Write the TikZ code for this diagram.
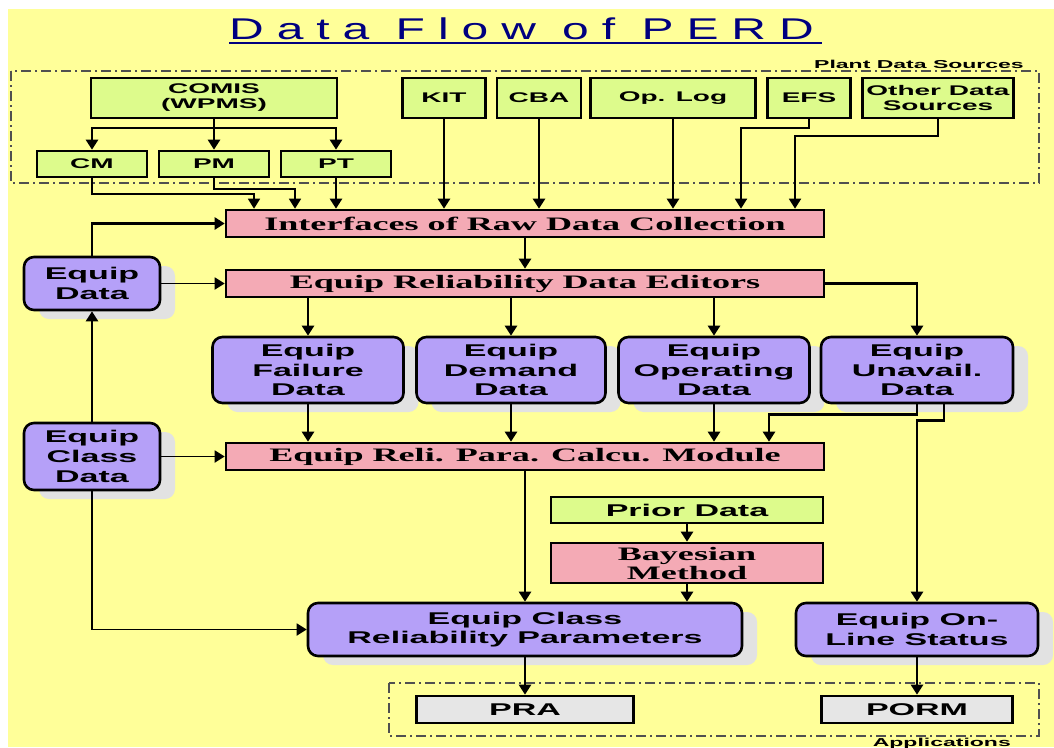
\documentclass[tikz,border=0pt]{standalone}
\usepackage{fontspec}
\usepackage{tikz}
\usetikzlibrary{arrows.meta,shadows}

\newfontfamily\boxsans[FakeStretch=2.0]{Liberation Sans}
\newfontfamily\boxserif[FakeStretch=1.9]{Liberation Serif}
\newfontfamily\titlesans[LetterSpace=27]{Liberation Sans}

\definecolor{bgyellow}{HTML}{FFFF99}
\definecolor{srcgreen}{HTML}{DDFB8C}
\definecolor{procpink}{HTML}{F4AAB5}
\definecolor{datapurple}{HTML}{B5A0F8}
\definecolor{appgray}{HTML}{E6E6E6}
\definecolor{titleblue}{HTML}{000080}
\definecolor{shadowgray}{HTML}{E2E2E2}
\definecolor{framegray}{HTML}{505050}

\tikzset{
  srcbox/.style={draw, line width=2.6pt, fill=srcgreen, inner sep=0pt, align=center,
    font=\boxsans\bfseries\fontsize{14}{15}\selectfont},
  procbox/.style={draw, line width=2.6pt, fill=procpink, inner sep=0pt, align=center,
    font=\boxserif\bfseries\fontsize{19}{19}\selectfont},
  databox/.style={draw, line width=2.6pt, fill=datapurple, rounded corners=10pt, inner sep=0pt,
    align=center, font=\boxsans\bfseries\fontsize{17}{19.7}\selectfont,
    drop shadow={shadow xshift=15pt, shadow yshift=-9pt, fill=shadowgray, opacity=1}},
  appbox/.style={draw, line width=2.6pt, fill=appgray, inner sep=0pt, align=center,
    font=\boxsans\bfseries\fontsize{17}{19}\selectfont},
  groupframe/.style={draw=framegray, line width=1.2pt, dash pattern=on 10pt off 4pt on 2pt off 4pt},
  grouplabel/.style={inner sep=0pt, font=\boxsans\bfseries\fontsize{11.5}{12}\selectfont},
  arr/.style={line width=2.4pt, -{Triangle[length=10pt,width=12pt]}},
  thinarr/.style={line width=1.8pt, -{Triangle[length=10pt,width=12pt]}}
}

\begin{document}
\begin{tikzpicture}[x=1pt,y=-1pt]
\useasboundingbox (0,0) rectangle (1054,747);
\fill[white] (0,0) rectangle (1054,747);
\fill[bgyellow] (8,9) rectangle (1054,747);

% title
\node[inner sep=0pt, text=titleblue, font=\titlesans\fontsize{30}{30}\selectfont, anchor=base west]
  (title) at (229,39.5) {\scalebox{1.6}[1]{Data Flow of PERD}};
\draw[titleblue, line width=2pt] (229,43) -- (822,43);

% plant data sources
\draw[groupframe] (11,71) rectangle (1039,183);
\node[grouplabel, anchor=base east] (plantlbl) at (1024,68) {Plant Data Sources};

\node[srcbox, minimum width=246, minimum height=40] (comis) at (214,98) {COMIS\\(WPMS)};
\node[srcbox, minimum width=110, minimum height=26] (cm) at (92,164) {CM};
\node[srcbox, minimum width=110, minimum height=26] (pm) at (214,164) {PM};
\node[srcbox, minimum width=110, minimum height=26] (pt) at (336,164) {PT};
\node[srcbox, minimum width=83, minimum height=40] (kit) at (444,98) {KIT};
\node[srcbox, minimum width=84, minimum height=40] (cba) at (539,98) {CBA};
\node[srcbox, minimum width=165, minimum height=40] (oplog) at (673,98) {Op. Log};
\node[srcbox, minimum width=83, minimum height=40] (efs) at (809,98) {EFS};
\node[srcbox, minimum width=151, minimum height=40] (other) at (938,98) {Other Data\\Sources};

% processing chain
\node[procbox, minimum width=598, minimum height=27] (iface) at (525,223.5) {Interfaces of Raw Data Collection};
\node[procbox, minimum width=598, minimum height=27] (edit) at (525,283.5) {Equip Reliability Data Editors};
\node[procbox, minimum width=598, minimum height=27] (calc) at (525,456.5) {Equip Reli. Para. Calcu. Module};

\node[databox, minimum width=136, minimum height=53] (eqdata) at (92,283.5) {Equip\\Data};
\node[databox, minimum width=136, minimum height=67] (eqclass) at (92,456.5) {Equip\\Class\\Data};

\node[databox, minimum width=191, minimum height=66] (fail) at (308,370) {Equip\\Failure\\Data};
\node[databox, minimum width=189, minimum height=66] (demand) at (511,370) {Equip\\Demand\\Data};
\node[databox, minimum width=191, minimum height=66] (oper) at (714,370) {Equip\\Operating\\Data};
\node[databox, minimum width=192, minimum height=66] (unav) at (917,370) {Equip\\Unavail.\\Data};

\node[srcbox, minimum width=272, minimum height=26] (prior) at (687,510) {\fontsize{17}{19}\selectfont Prior Data};
\node[procbox, minimum width=272, minimum height=40] (bayes) at (687,563) {Bayesian\\Method};

\node[databox, minimum width=434, minimum height=53] (ecrp) at (525,629.5) {Equip Class\\Reliability Parameters};
\node[databox, minimum width=242, minimum height=53] (online) at (917,629.5) {Equip On-\\Line Status};

% applications
\draw[groupframe] (389,683) rectangle (1039,736);
\node[grouplabel, anchor=base east] (applbl) at (1011,746) {Applications};
\node[appbox, minimum width=217, minimum height=27] (pra) at (525,709.5) {PRA};
\node[appbox, minimum width=191, minimum height=27] (porm) at (917,709.5) {PORM};

% connectors, sources
\coordinate (split) at (214,128);
\draw[line width=2.4pt] (comis.south) -- (split);
\draw[arr] (split) -| (cm);
\draw[arr] (split) -- (pm);
\draw[arr] (split) -| (pt);
\draw[thinarr] (cm.south) -- ++(0,16) -| (254,0 |- iface.north);
\draw[thinarr] (pm.south) -- ++(0,11) -| (295,0 |- iface.north);
\draw[arr] (pt.south) -- (pt.south |- iface.north);
\draw[arr] (kit.south) -- (kit.south |- iface.north);
\draw[arr] (cba.south) -- (cba.south |- iface.north);
\draw[arr] (oplog.south) -- (oplog.south |- iface.north);
\draw[thinarr] (efs.south) -- ++(0,9) -| (741,0 |- iface.north);
\draw[thinarr] (other.south) -- ++(0,17) -| (795,0 |- iface.north);

% connectors, editors and data
\draw[arr] (iface) -- (edit);
\draw[thinarr] (eqdata) -- (edit);
\draw[arr] (eqdata.north) |- (iface.west);
\draw[arr] (eqclass) -- (eqdata);
\draw[thinarr] (eqclass) -- (calc);
\draw[thinarr] (eqclass.south) |- (ecrp.west);
\draw[arr] (fail.north |- edit.south) -- (fail);
\draw[arr] (demand.north |- edit.south) -- (demand);
\draw[arr] (oper.north |- edit.south) -- (oper);
\draw[arr] (edit.east) -| (unav);
\draw[arr] (fail) -- (fail.south |- calc.north);
\draw[arr] (demand) -- (demand.south |- calc.north);
\draw[arr] (oper) -- (oper.south |- calc.north);
\draw[arr] (unav.south) -- ++(0,10) -| (769,0 |- calc.north);
\draw[arr] ([xshift=27pt]unav.south) -- ++(0,16) -| (online);

% connectors, results
\draw[arr] (calc) -- (ecrp);
\draw[arr] (prior) -- (bayes);
\draw[arr] (bayes.south) -- (bayes.south |- ecrp.north);
\draw[arr] (ecrp) -- (pra);
\draw[arr] (online) -- (porm);
\end{tikzpicture}
\end{document}
